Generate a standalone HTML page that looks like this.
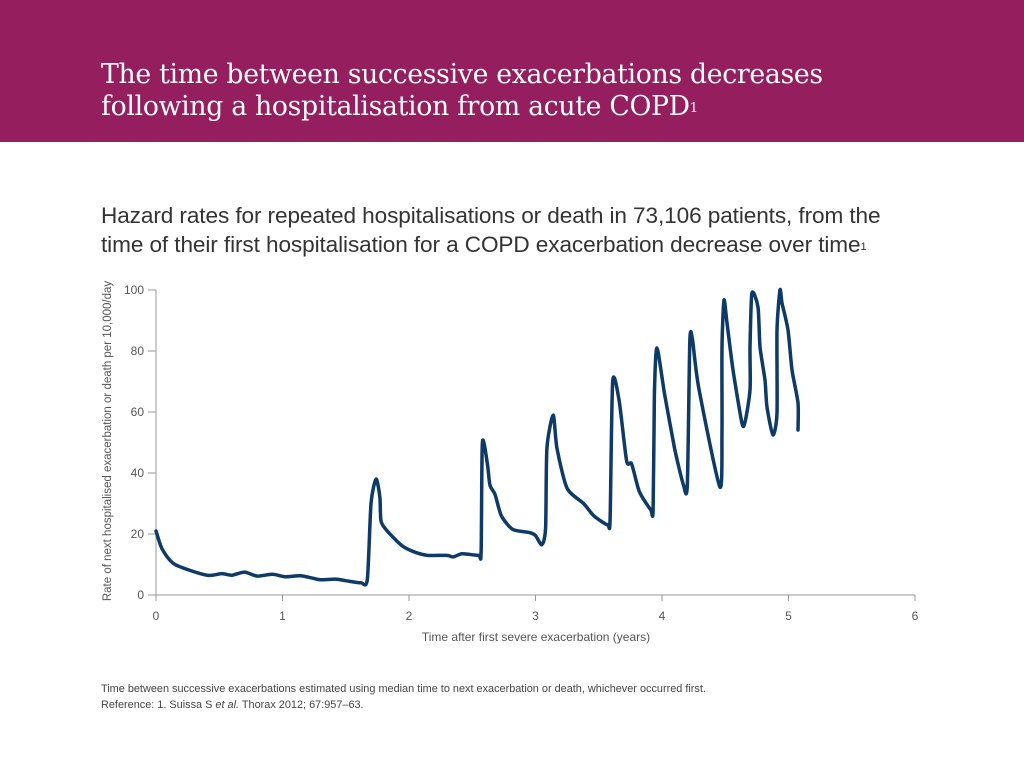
<!DOCTYPE html>
<html><head><meta charset="utf-8"><style>
body{margin:0;width:1024px;height:768px;background:#fff;position:relative;overflow:hidden;font-family:"Liberation Sans",sans-serif}
#banner{position:absolute;left:0;top:0;width:1024px;height:142px;background:#951e5f}
#title{position:absolute;left:101px;top:59px;color:#fff;font-family:"DejaVu Serif",serif;font-size:26.7px;line-height:32px;letter-spacing:-0.3px;white-space:nowrap}
#title sup{font-size:13px;vertical-align:top;position:relative;top:2px}
#subtitle{position:absolute;left:101px;top:201px;color:#333;font-size:22.6px;line-height:29px;white-space:nowrap;letter-spacing:-0.1px}
#subtitle sup{font-size:11px;vertical-align:top;position:relative;top:3px}
#foot{position:absolute;left:101px;top:681px;color:#444;font-size:10.9px;line-height:16px;white-space:nowrap}
svg{position:absolute;left:0;top:0}
</style></head><body>
<div id="banner"></div>
<div id="title">The time between successive exacerbations decreases<br>following a hospitalisation from acute COPD<sup>1</sup></div>
<div id="subtitle">Hazard rates for repeated hospitalisations or death in 73,106 patients, from the<br>time of their first hospitalisation for a COPD exacerbation decrease over time<sup>1</sup></div>
<div id="foot">Time between successive exacerbations estimated using median time to next exacerbation or death, whichever occurred first.<br>Reference: 1. Suissa S <i>et al.</i> Thorax 2012; 67:957–63.</div>
<svg id="chart" width="1024" height="768"></svg>
<script>
const xTicks=[0,1,2,3,4,5,6];
const yTicks=[0,20,40,60,80,100];
const xs=[0,0.05,0.15,0.4,0.52,0.6,0.7,0.8,0.92,1.02,1.14,1.24,1.3,1.42,1.5,1.62,1.67,1.70,1.74,1.77,1.78,1.85,1.95,2.05,2.15,2.3,2.35,2.42,2.55,2.57,2.58,2.62,2.64,2.68,2.73,2.82,2.95,3.0,3.05,3.08,3.09,3.14,3.17,3.25,3.38,3.46,3.57,3.59,3.61,3.66,3.72,3.76,3.82,3.91,3.93,3.94,3.96,4.02,4.1,4.17,4.2,4.22,4.24,4.29,4.458,4.474,4.474,4.49,4.514,4.561,4.632,4.656,4.696,4.696,4.711,4.759,4.775,4.814,4.83,4.877,4.909,4.909,4.933,4.949,4.996,5.028,5.075,5.075];
const ys=[21,15,10,6.5,7,6.5,7.5,6.2,6.8,6,6.3,5.5,5,5.2,4.7,4,5,30,38,32,24,20,16,14,13,13,12.5,13.5,13,14,50,43,36,33,26,21.5,20.5,19.5,16.5,22,48,59,48,35,30,26,23,25,70,64,44,43,34,28,28,66,81,66,48,36,36,83,84,68,35.4,54.1,81.3,96.7,89.2,73.8,56.4,56.7,67.2,81.3,99,94.4,81.3,70.5,61.6,52.5,59.7,86.9,100,95.7,86.9,73.8,63,54.1];
const X=v=>156+v*126.5, Y=v=>595-v*3.05;
const svg=document.getElementById('chart'),NS='http://www.w3.org/2000/svg';
function mk(t,a){const e=document.createElementNS(NS,t);for(const k in a)e.setAttribute(k,a[k]);svg.appendChild(e);return e;}
let ax=mk('line',{x1:156,y1:290,x2:156,y2:595,stroke:'#999','stroke-width':1});


let bx=mk('line',{x1:156,y1:595,x2:915,y2:595,stroke:'#999','stroke-width':1});


xTicks.forEach(t=>{
 mk('line',{x1:X(t),y1:595,x2:X(t),y2:601,stroke:'#999'});
 const l=mk('text',{x:X(t),y:620,'text-anchor':'middle','font-size':12,fill:'#555','font-family':'Liberation Sans'});
 l.textContent=t;
 
 
});
yTicks.forEach(t=>{
 mk('line',{x1:148,y1:Y(t),x2:156,y2:Y(t),stroke:'#999'});
 const l=mk('text',{x:144,y:Y(t)+4,'text-anchor':'end','font-size':12,fill:'#555','font-family':'Liberation Sans'});
 l.textContent=t;
 
 
});
const xt=mk('text',{x:536,y:641,'text-anchor':'middle','font-size':12,fill:'#555','font-family':'Liberation Sans'});
xt.textContent='Time after first severe exacerbation (years)';


const yt=mk('text',{x:0,y:0,'text-anchor':'middle','font-size':11.5,fill:'#555','font-family':'Liberation Sans',transform:'translate(111,441) rotate(-90)'});
yt.textContent='Rate of next hospitalised exacerbation or death per 10,000/day';


const P=xs.map((v,i)=>[X(v),Y(ys[i])]);
let d='M'+P[0][0].toFixed(1)+','+P[0][1].toFixed(1);
const k=0.12;
for(let i=0;i<P.length-1;i++){
 const p0=P[Math.max(0,i-1)],p1=P[i],p2=P[i+1],p3=P[Math.min(P.length-1,i+2)];
 const c1=[p1[0]+(p2[0]-p0[0])*k,p1[1]+(p2[1]-p0[1])*k];
 const c2=[p2[0]-(p3[0]-p1[0])*k,p2[1]-(p3[1]-p1[1])*k];
 d+='C'+c1.map(n=>n.toFixed(1)).join(',')+' '+c2.map(n=>n.toFixed(1)).join(',')+' '+p2[0].toFixed(1)+','+p2[1].toFixed(1);
}
const p=mk('path',{d:d,fill:'none',stroke:'#0d3a66','stroke-width':3.5,'stroke-linejoin':'round','stroke-linecap':'round'});


</script>
</body></html>
